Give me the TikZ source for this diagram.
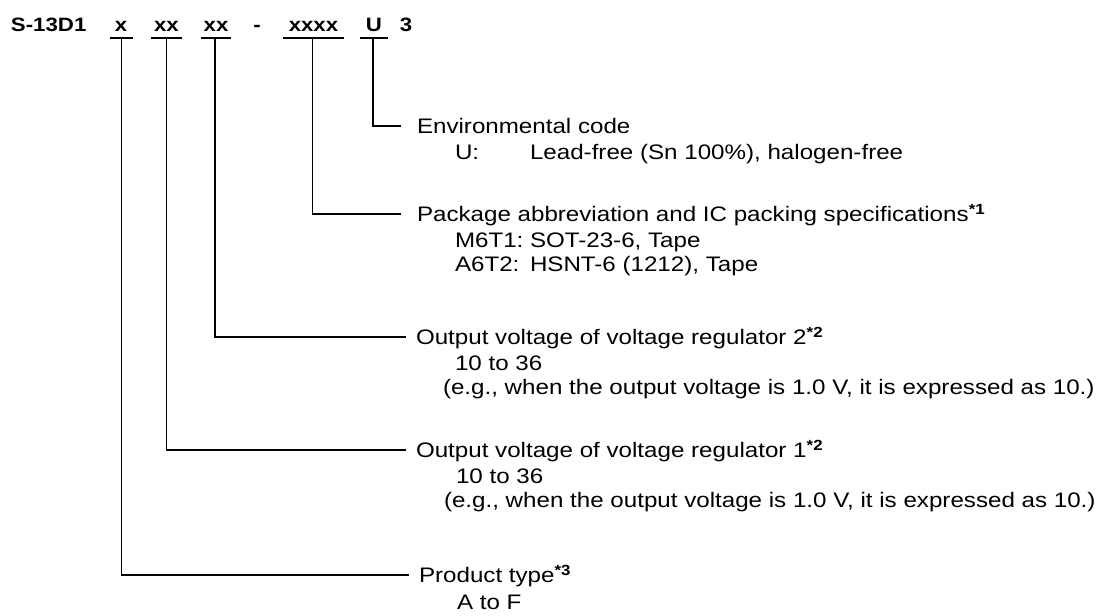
\documentclass[tikz,border=0pt]{standalone}
\usepackage{fontspec}
\setmainfont{Liberation Sans}[FakeStretch=1.15]
\begin{document}
\begin{tikzpicture}[x=0.75pt,y=-0.75pt,
  txt/.style={anchor=base west,inner sep=0pt,outer sep=0pt,font=\fontsize{15.75pt}{18pt}\selectfont},
  code/.style={anchor=base,inner sep=0pt,outer sep=0pt,font=\fontsize{14.5pt}{18pt}\selectfont\bfseries},
  lead/.style={line width=1.45pt,line cap=rect,line join=miter}]
\useasboundingbox (0,0) rectangle (1105,616);
% header
\node[txt,font=\fontsize{14.5pt}{18pt}\selectfont\bfseries] (pn) at (11,32) {S-13D1};
\node[code] (c1) at (121,32) {x};
\node[code] (c2) at (166.5,32) {xx};
\node[code] (c3) at (216,32) {xx};
\node[code] (c4) at (257,32) {-};
\node[code] (c5) at (313.5,32) {xxxx};
\node[code] (c6) at (374,32) {U};
\node[code] (c7) at (406,32) {3};
\draw[lead] (111,38) -- (132,38) (152,38) -- (181,38) (202,38) -- (230,38)
  (284,38) -- (343,38) (361,38) -- (387,38);
\coordinate (u1) at (121.5,38);
\coordinate (u2) at (166.5,38);
\coordinate (u3) at (215,38);
\coordinate (u4) at (312.5,38);
\coordinate (u5) at (373,38);
% line ends
\coordinate (e5) at (400,126);
\coordinate (e4) at (400,214);
\coordinate (e3) at (405,337);
\coordinate (e2) at (405,450);
\coordinate (e1) at (408,575);
\draw[lead] (u5) |- (e5);
\draw[lead] (u4) |- (e4);
\draw[lead] (u3) |- (e3);
\draw[lead] (u2) |- (e2);
\draw[lead] (u1) |- (e1);
% texts
\node[txt] (t5) at (417,133.5) {Environmental code};
\node[txt] (t5a) at (455,159.5) {U:};
\node[txt] (t5b) at (530,159.5) {Lead-free (Sn 100\%), halogen-free};
\node[txt] (t4) at (417,221.5) {Package abbreviation and IC packing specifications\textsuperscript{\bfseries *1}};
\node[txt] (t4a) at (455,247.5) {M6T1:};
\node[txt] (t4b) at (530,247.5) {SOT-23-6, Tape};
\node[txt] (t4c) at (455,271.5) {A6T2:};
\node[txt] (t4d) at (530,271.5) {HSNT-6 (1212), Tape};
\node[txt] (t3) at (416,344.5) {Output voltage of voltage regulator 2\textsuperscript{\bfseries *2}};
\node[txt] (t3a) at (455,370.5) {10 to 36};
\node[txt] (t3b) at (443,394.5) {(e.g., when the output voltage is 1.0 V, it is expressed as 10.)};
\node[txt] (t2) at (416,457.5) {Output voltage of voltage regulator 1\textsuperscript{\bfseries *2}};
\node[txt] (t2a) at (456,483.5) {10 to 36};
\node[txt] (t2b) at (444,507.5) {(e.g., when the output voltage is 1.0 V, it is expressed as 10.)};
\node[txt] (t1) at (419,582.5) {Product type\textsuperscript{\bfseries *3}};
\node[txt] (t1a) at (457,609) {A to F};
\end{tikzpicture}
\end{document}
